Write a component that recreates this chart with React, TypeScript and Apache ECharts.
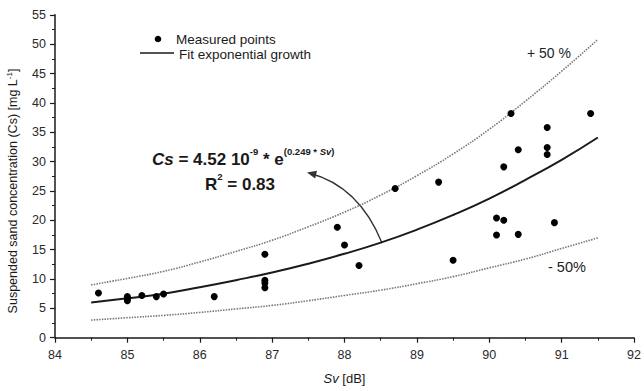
import React, { useEffect, useRef } from "react";
import * as echarts from "echarts";

// Measured points (Sv [dB], Cs [mg/L])
const measuredSv = [84.6, 85.0, 85.0, 85.0, 85.2, 85.4, 85.5, 86.2, 86.9, 86.9, 86.9, 86.9, 87.9, 88.0, 88.2, 88.7, 89.3, 89.5, 90.1, 90.2, 90.1, 90.4, 90.9, 90.3, 90.4, 90.2, 90.8, 90.8, 90.8, 91.4];
const measuredCs = [7.6, 7.0, 6.6, 6.3, 7.2, 7.0, 7.45, 7.0, 14.2, 9.8, 9.3, 8.5, 18.8, 15.8, 12.3, 25.4, 26.5, 13.2, 20.4, 20.0, 17.5, 17.6, 19.6, 38.2, 32.0, 29.1, 35.8, 32.4, 31.2, 38.2];

// Curves
const curveSv = [84.5, 85.0, 85.5, 86.0, 86.5, 87.0, 87.5, 88.0, 88.5, 89.0, 89.5, 90.0, 90.5, 91.0, 91.5];
const fitCs = [6.0, 6.7, 7.5, 8.6, 9.8, 11.1, 12.6, 14.3, 16.2, 18.4, 20.9, 23.7, 26.9, 30.3, 34.1];
const upperCs = [9.0, 10.1, 11.3, 12.9, 14.7, 16.6, 18.9, 21.4, 24.3, 27.6, 31.3, 35.5, 40.3, 45.4, 50.8];
const lowerCs = [3.0, 3.4, 3.8, 4.3, 4.9, 5.5, 6.3, 7.2, 8.1, 9.2, 10.4, 11.9, 13.4, 15.2, 17.0];

const legendNames = ["Measured points", "Fit exponential growth"];

const FONT = "Liberation Sans, Arial, sans-serif";
const INK = "#1a1a1a";

export default function App() {
  const ref = useRef<HTMLDivElement>(null);
  useEffect(() => {
    const chart = echarts.init(ref.current!, undefined, { renderer: "svg" });
    const pts = measuredSv.map((x, i) => [x, measuredCs[i]]);
    const pair = (ys: number[]) => curveSv.map((x, i) => [x, ys[i]]);
    const big = { fontSize: 17, fontWeight: "bold", fill: INK, fontFamily: FONT, lineHeight: 21, verticalAlign: "bottom" };
    const sup = { fontSize: 9.5, fontWeight: "bold", fill: INK, fontFamily: FONT, lineHeight: 10, verticalAlign: "top" };
    chart.setOption({
      animation: false,
      textStyle: { fontFamily: FONT },
      grid: { left: 55, right: 3.4, top: 14.8, bottom: 53.3 },
      xAxis: {
        type: "value",
        min: 84,
        max: 92,
        interval: 1,
        name: "{i|Sv}{n| [dB]}",
        nameLocation: "middle",
        nameGap: 34,
        nameTextStyle: {
          rich: {
            i: { fontStyle: "italic", fontSize: 13, color: INK, fontFamily: FONT },
            n: { fontSize: 13, color: INK, fontFamily: FONT },
          },
        },
        axisLine: { lineStyle: { color: INK, width: 1.5 } },
        axisTick: { length: 5, lineStyle: { color: INK, width: 1.2 } },
        minorTick: { show: true, splitNumber: 2, length: 3, lineStyle: { color: INK, width: 1 } },
        axisLabel: { fontSize: 12.5, color: "#2a2a2a", margin: 11 },
        splitLine: { show: false },
      },
      yAxis: {
        type: "value",
        min: 0,
        max: 55,
        interval: 5,
        axisLine: { show: true, lineStyle: { color: INK, width: 1.5 } },
        axisTick: { show: true, length: 5, lineStyle: { color: INK, width: 1.2 } },
        minorTick: { show: true, splitNumber: 2, length: 3, lineStyle: { color: INK, width: 1 } },
        axisLabel: { fontSize: 12.5, color: "#2a2a2a", margin: 9 },
        splitLine: { show: false },
      },
      series: [
        {
          name: "+50%",
          type: "line",
          data: pair(upperCs),
          smooth: true,
          symbol: "none",
          lineStyle: { color: "#777", width: 1.6, type: [1.5, 1.2] },
          z: 1,
        },
        {
          name: "-50%",
          type: "line",
          data: pair(lowerCs),
          smooth: true,
          symbol: "none",
          lineStyle: { color: "#777", width: 1.6, type: [1.5, 1.2] },
          z: 1,
        },
        {
          name: legendNames[1],
          type: "line",
          data: pair(fitCs),
          smooth: true,
          symbol: "none",
          lineStyle: { color: INK, width: 2 },
          z: 2,
        },
        {
          name: legendNames[0],
          type: "scatter",
          data: pts,
          symbol: "circle",
          symbolSize: 7,
          itemStyle: { color: "#000", opacity: 1 },
          z: 3,
        },
      ],
      graphic: [
        // y-axis title
        {
          type: "text",
          x: 12,
          y: 191,
          rotation: Math.PI / 2,
          style: {
            text: "{a|Suspended sand concentration (Cs) [mg L}{s|-1}{a|]}",
            align: "center",
            verticalAlign: "middle",
            rich: {
              a: { fontSize: 12.5, fill: INK, fontFamily: FONT, lineHeight: 14, verticalAlign: "bottom" },
              s: { fontSize: 8, fill: INK, fontFamily: FONT, lineHeight: 8, verticalAlign: "top" },
            },
          },
        },
        // legend
        { type: "circle", shape: { cx: 158, cy: 39, r: 3.3 }, style: { fill: "#000" } },
        { type: "line", shape: { x1: 140, y1: 53, x2: 174, y2: 53 }, style: { stroke: INK, lineWidth: 1.6 } },
        {
          type: "text",
          x: 176,
          y: 39,
          style: { text: legendNames[0], fontSize: 13.5, fill: INK, fontFamily: FONT, verticalAlign: "middle" },
        },
        {
          type: "text",
          x: 179,
          y: 54,
          style: { text: legendNames[1], fontSize: 13.5, fill: INK, fontFamily: FONT, verticalAlign: "middle" },
        },
        // equation
        {
          type: "text",
          x: 152,
          y: 157,
          style: {
            text: "{i|Cs}{b| = 4.52 10}{s|-9}{b| * e}{s|(0.249 * }{si|Sv}{s|)}",
            verticalAlign: "middle",
            rich: {
              i: { ...big, fontStyle: "italic" },
              b: big,
              s: sup,
              si: { ...sup, fontStyle: "italic" },
            },
          },
        },
        {
          type: "text",
          x: 205,
          y: 182,
          style: {
            text: "{b|R}{s|2}{b| = 0.83}",
            verticalAlign: "middle",
            rich: { b: big, s: sup },
          },
        },
        {
          type: "bezierCurve",
          shape: { x1: 382, y1: 243, x2: 309, y2: 173, cpx1: 359, cpy1: 186 },
          style: { stroke: "#333", lineWidth: 1.3, fill: "none" },
        },
        {
          type: "polygon",
          shape: { points: [[307, 172.6], [317, 170.8], [315.2, 178.6]] },
          style: { fill: "#333" },
        },
        {
          type: "text",
          x: 527,
          y: 53,
          style: { text: "+ 50 %", fontSize: 14, fill: "#222", fontFamily: FONT, verticalAlign: "middle" },
        },
        {
          type: "text",
          x: 548,
          y: 267,
          style: { text: "- 50%", fontSize: 14.5, fill: "#222", fontFamily: FONT, verticalAlign: "middle" },
        },
      ],
    });
    return () => chart.dispose();
  }, []);
  return (
    <div
      ref={ref}
      style={{ position: "fixed", left: 0, top: 0, width: 644, height: 391, background: "#fff" }}
    />
  );
}
